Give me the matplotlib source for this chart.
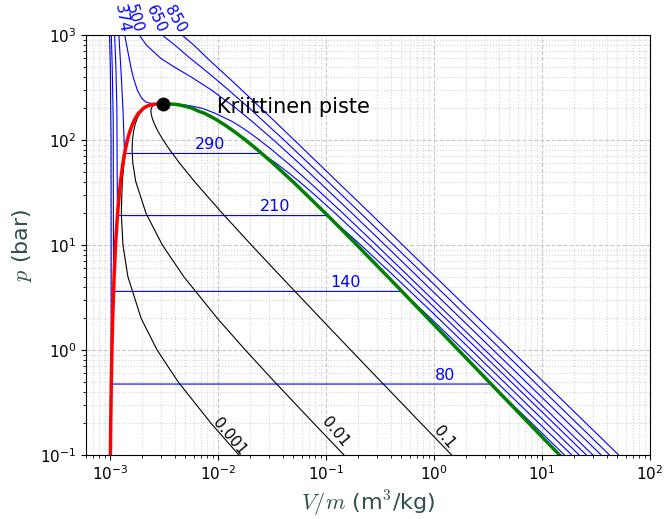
import matplotlib.pyplot as plt

plt.rcParams['mathtext.fontset'] = 'cm'

# saturation curve: pressure (bar), liquid / vapour specific volume (m3/kg)
p_sat = [0.1, 0.2, 0.5, 1, 2, 5, 10, 20, 40, 60, 80, 100, 120, 140, 160, 180,
         190, 200, 210, 215, 218, 220, 220.64]
v_liq = [0.001010, 0.001017, 0.001030, 0.001043, 0.001061, 0.001093, 0.001127,
         0.001177, 0.001252, 0.001319, 0.001384, 0.001452, 0.001527, 0.001611,
         0.001711, 0.001840, 0.001947, 0.002035, 0.002207, 0.002342, 0.002475,
         0.002680, 0.003106]
v_vap = [14.67, 7.649, 3.240, 1.694, 0.8857, 0.3748, 0.1944, 0.09959, 0.04978,
         0.03244, 0.02352, 0.01803, 0.01426, 0.01149, 0.009307, 0.007491,
         0.006470, 0.005834, 0.004952, 0.004464, 0.004098, 0.003660, 0.003106]

# lines of constant vapour fraction, same pressures as above
v_q0001 = [0.01568, 0.008665, 0.004269, 0.002736, 0.001946, 0.001467, 0.001320,
           0.001275, 0.001301, 0.001350, 0.001406, 0.001469, 0.001540, 0.001621,
           0.001719, 0.001846, 0.001952, 0.002039, 0.002210, 0.002344, 0.002477,
           0.002681, 0.003106]
v_q001 = [0.1477, 0.07750, 0.03342, 0.01797, 0.009907, 0.004830, 0.003060,
          0.002161, 0.001737, 0.001630, 0.001605, 0.001618, 0.001654, 0.001710,
          0.001787, 0.001897, 0.001992, 0.002073, 0.002234, 0.002363, 0.002491,
          0.002690, 0.003106]
v_q01 = [1.468, 0.7658, 0.3249, 0.1703, 0.08953, 0.03846, 0.02045, 0.01102,
         0.006105, 0.004431, 0.003598, 0.003110, 0.002800, 0.002599, 0.002471,
         0.002405, 0.002399, 0.002415, 0.002482, 0.002554, 0.002637, 0.002778,
         0.003106]
qualities = ['0.001', '0.01', '0.1']

# isotherms (degC): volume and pressure points
t80_v = [0.000991, 0.001008, 0.001025, 0.001029, 3.407, 8.15, 16.3]
t80_p = [1000, 500, 100, 0.4739, 0.4739, 0.2, 0.1]
t140_v = [0.00103, 0.00105, 0.001073, 0.00108, 0.5085, 0.942, 1.889, 19.06]
t140_p = [1000, 500, 150, 3.614, 3.614, 2, 1, 0.1]
t210_v = [0.001105, 0.001135, 0.00116, 0.001173, 0.1044, 0.2113, 0.4348, 1.110,
          2.226, 22.29]
t210_p = [1000, 500, 200, 19.06, 19.06, 10, 5, 2, 1, 0.1]
t290_v = [0.00121, 0.00126, 0.00132, 0.001366, 0.02557, 0.0347, 0.0437, 0.0572,
          0.0791, 0.1227, 0.2529, 0.5130, 2.592, 25.99]
t290_p = [1000, 500, 200, 74.4, 74.4, 60, 50, 40, 30, 20, 10, 5, 1, 0.1]
t374_v = [0.00137, 0.00156, 0.00164, 0.00179, 0.00197, 0.00215, 0.0024, 0.0031,
          0.0040, 0.0048, 0.0058, 0.0072, 0.0094, 0.0136, 0.0180, 0.0243, 0.0320,
          0.0447, 0.0698, 0.1447, 0.2941, 2.984, 29.86]
t374_p = [1000, 500, 400, 300, 250, 230, 223, 220.8, 220, 217, 210, 200, 180,
          150, 125, 100, 80, 60, 40, 20, 10, 1, 0.1]
t500_v = [0.00187, 0.00218, 0.00295, 0.00389, 0.00562, 0.00868, 0.01479, 0.0208,
          0.0328, 0.0567, 0.0864, 0.1757, 0.3541, 3.565, 35.65]
t500_p = [1000, 800, 600, 500, 400, 300, 200, 150, 100, 60, 40, 20, 10, 1, 0.1]
t650_v = [0.00304, 0.0040, 0.00554, 0.00692, 0.00902, 0.01254, 0.01966, 0.04098,
          0.1052, 0.2112, 0.4245, 4.258, 42.6]
t650_p = [1000, 800, 600, 500, 400, 300, 200, 100, 40, 20, 10, 1, 0.1]
t850_v = [0.00464, 0.0060, 0.0080, 0.0097, 0.0123, 0.0166, 0.0252, 0.0510,
          0.1282, 0.2585, 0.516, 5.181, 51.83]
t850_p = [1000, 800, 600, 500, 400, 300, 200, 100, 40, 20, 10, 1, 0.1]

crit_v, crit_p = 0.003106, 220.64

fig = plt.figure(figsize=(6.65, 5.19), dpi=100)
ax = fig.add_axes([0.1293, 0.1233, 0.8474, 0.8093])
ax.set_xscale('log')
ax.set_yscale('log')

iso = [(t80_v, t80_p), (t140_v, t140_p), (t210_v, t210_p), (t290_v, t290_p),
       (t374_v, t374_p), (t500_v, t500_p), (t650_v, t650_p), (t850_v, t850_p)]
for v, p in iso:
    ax.plot(v, p, color='blue', lw=0.8)

# labels on the two-phase parts
ax.text(0.0084, 77, '290', color='blue', fontsize=11.5, ha='center', va='bottom')
ax.text(0.0337, 19.8, '210', color='blue', fontsize=11.5, ha='center', va='bottom')
ax.text(0.154, 3.75, '140', color='blue', fontsize=11.5, ha='center', va='bottom')
ax.text(1.28, 0.49, '80', color='blue', fontsize=11.5, ha='center', va='bottom')

# labels above the top edge
for txt, x, rot in [('374', 0.00128, -80), ('500', 0.00169, -74),
                    ('650', 0.00265, -65), ('850', 0.00405, -60)]:
    ax.text(x, 1420, txt, color='blue', fontsize=11, ha='center', va='center',
            rotation=rot, clip_on=False)

for v in [v_q0001, v_q001, v_q01]:
    ax.plot(v, p_sat, color='black', lw=0.8)
ax.text(0.0129, 0.148, qualities[0], fontsize=11, rotation=-50, ha='center', va='center')
ax.text(0.1215, 0.1656, qualities[1], fontsize=11, rotation=-50, ha='center', va='center')
ax.text(1.25, 0.148, qualities[2], fontsize=11, rotation=-50, ha='center', va='center')

ax.plot(v_liq, p_sat, color='red', lw=2.5)
ax.plot(v_vap, p_sat, color='green', lw=2.5)
ax.plot(crit_v, crit_p, 'o', color='black', markersize=9)
ax.text(0.0099, 180, 'Kriittinen piste', fontsize=15, ha='left', va='baseline')

ax.set_xlim(6e-4, 100)
ax.set_ylim(0.1, 1000)
ax.grid(True, which='major', ls='--', color='#c8c8c8', lw=0.8)
ax.grid(True, which='minor', ls=':', color='#d4d4d4', lw=0.8)
ax.set_axisbelow(True)
ax.tick_params(labelsize=11)
ax.set_xlabel('$V/m$ (m$^3$/kg)', fontsize=16, color='#2f4f4f')
ax.set_ylabel('$p$ (bar)', fontsize=16, color='#2f4f4f')

fig.savefig('out.png', dpi=100)
